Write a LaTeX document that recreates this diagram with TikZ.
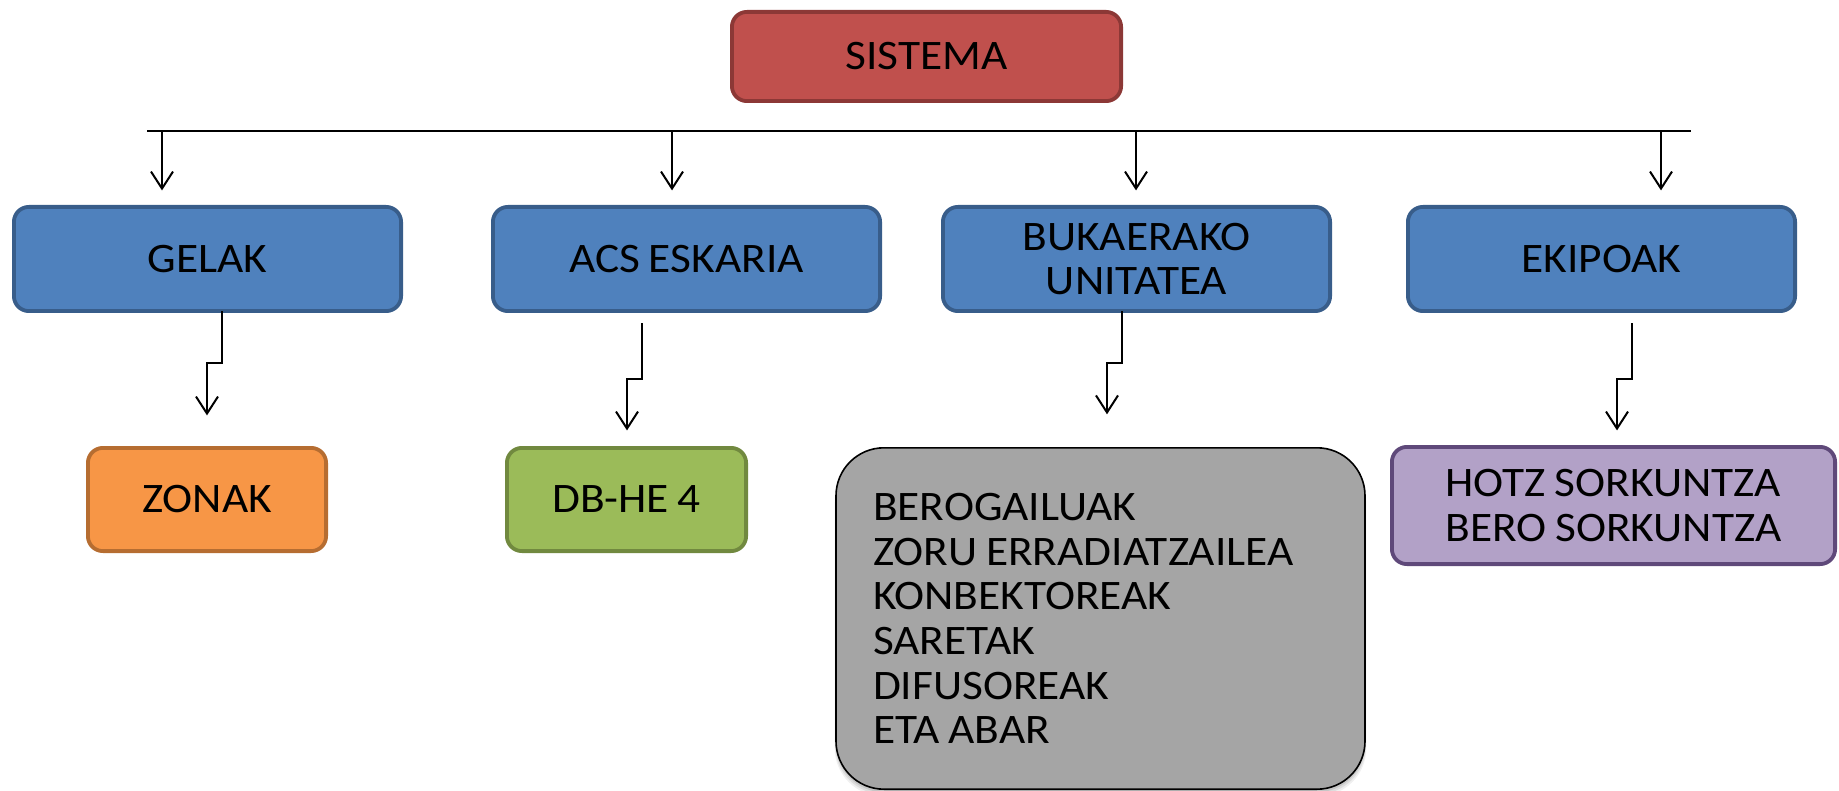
\documentclass[tikz,border=0pt]{standalone}
\usepackage{fontspec}
\setmainfont{Carlito}[FakeStretch=1.08, WordSpace=0.85]
\usetikzlibrary{arrows.meta}

\definecolor{redfill}{HTML}{C0504D}
\definecolor{redline}{HTML}{8C3836}
\definecolor{bluefill}{HTML}{4F81BD}
\definecolor{blueline}{HTML}{385D8A}
\definecolor{orangefill}{HTML}{F79646}
\definecolor{orangeline}{HTML}{B66D31}
\definecolor{greenfill}{HTML}{9BBB59}
\definecolor{greenline}{HTML}{71893F}
\definecolor{purplefill}{HTML}{B2A1C7}
\definecolor{purpleline}{HTML}{5F497A}
\definecolor{grayfill}{HTML}{A5A5A5}

\tikzset{
  boxtext/.style={font=\fontsize{42}{44.6}\selectfont, text=black},
  card/.style={boxtext, rounded corners=15pt, line width=3.8pt,
    inner sep=0pt, outer sep=0pt, align=center},
  redcard/.style={card, fill=redfill, draw=redline},
  bluecard/.style={card, fill=bluefill, draw=blueline},
  orangecard/.style={card, fill=orangefill, draw=orangeline},
  greencard/.style={card, fill=greenfill, draw=greenline},
  purplecard/.style={card, fill=purplefill, draw=purpleline, align=left},
  graycard/.style={boxtext, rounded corners=48pt, line width=1.6pt,
    fill=grayfill, draw=black, inner ysep=0pt, outer sep=0pt, align=flush left},
  wire/.style={line width=2pt, draw=black},
  arr/.style={wire, -{Straight Barb[length=17pt,width=22pt,line width=2pt]}},
}

\begin{document}
\begin{tikzpicture}[x=1pt,y=-1pt]
\useasboundingbox (0,0) rectangle (1839,791);

% top of the hierarchy
\node[redcard, minimum width=389.2pt, minimum height=89.2pt] (sistema) at (926.5,56.5) {SISTEMA};

% second row
\node[bluecard, minimum width=387.2pt, minimum height=104.2pt] (gelak) at (207.5,259) {GELAK};
\node[bluecard, minimum width=387.2pt, minimum height=104.2pt] (acs) at (686.5,259) {ACS ESKARIA};
\node[bluecard, minimum width=387.2pt, minimum height=104.2pt] (buk) at (1136.5,259) {BUKAERAKO\\UNITATEA};
\node[bluecard, minimum width=387.2pt, minimum height=104.2pt] (eki) at (1601.5,259) {EKIPOAK};

% third row
\node[orangecard, minimum width=238.2pt, minimum height=103.2pt] (zonak) at (207,499.5) {ZONAK};
\node[greencard, minimum width=239.2pt, minimum height=103.2pt] (dbhe) at (626.5,499.5) {DB-HE 4};

% soft shadow under the grey list box
\foreach \o/\a in {7/0.06,5/0.08,3/0.10}{
  \fill[black, opacity=\a, rounded corners=48pt]
    (836.8-\o*0.3,447.8+\o) rectangle (1364.2+\o*0.3,789.2+\o);
}
\node[graycard, minimum width=527.4pt, minimum height=341.4pt,
      text width=455pt, inner xsep=37pt] (gray) at (1100.5,618.5)
  {BEROGAILUAK\\ZORU ERRADIATZAILEA\\KONBEKTOREAK\\SARETAK\\DIFUSOREAK\\ETA ABAR};
\node[purplecard, minimum width=443.2pt, minimum height=117.2pt] (purple) at (1613.5,505.5)
  {HOTZ SORKUNTZA\\BERO SORKUNTZA};

% distribution line with its drops
\coordinate (busL) at (147,131);
\coordinate (busR) at (1691,131);
\draw[wire] (busL) -- (busR);
\coordinate (b1) at (162,131);
\coordinate (b2) at (672,131);
\coordinate (b3) at (1136,131);
\coordinate (b4) at (1661,131);
\draw[arr, shorten >=16.5pt] (b1) -- (b1 |- gelak.north);
\draw[arr, shorten >=16.5pt] (b2) -- (b2 |- acs.north);
\draw[arr, shorten >=16.5pt] (b3) -- (b3 |- buk.north);
\draw[arr, shorten >=16.5pt] (b4) -- (b4 |- eki.north);

% stepped links to the lower boxes
\coordinate (g1) at (222,363);
\coordinate (g2) at (207,363);
\draw[arr, shorten >=32.5pt] (g1 |- gelak.south) -- (g1) -- (g2) -- (g2 |- zonak.north);

\coordinate (a1) at (642,379);
\coordinate (a2) at (627,379);
\draw[arr, shorten <=12pt, shorten >=17.5pt] (a1 |- acs.south) -- (a1) -- (a2) -- (a2 |- dbhe.north);

\coordinate (u1) at (1122,363);
\coordinate (u2) at (1107,363);
\draw[arr, shorten >=33.5pt] (u1 |- buk.south) -- (u1) -- (u2) -- (u2 |- gray.north);

\coordinate (e1) at (1632,379);
\coordinate (e2) at (1617,379);
\draw[arr, shorten <=12pt, shorten >=16.5pt] (e1 |- eki.south) -- (e1) -- (e2) -- (e2 |- purple.north);
\end{tikzpicture}
\end{document}
